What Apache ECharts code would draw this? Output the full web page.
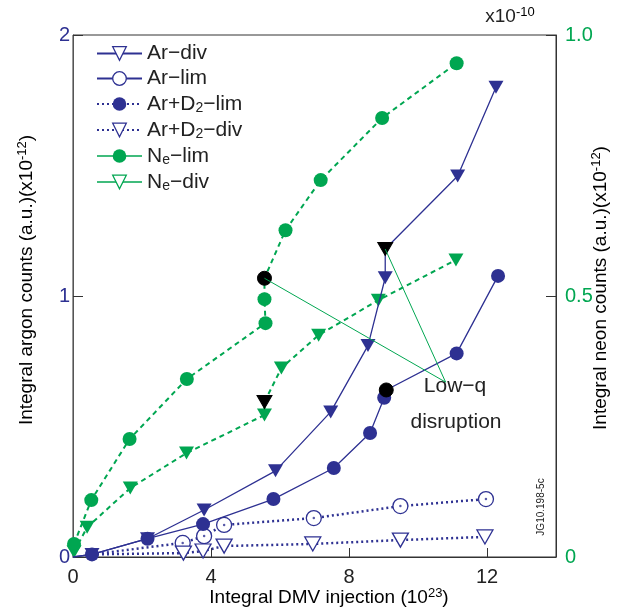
<!DOCTYPE html>
<html><head><meta charset="utf-8">
<script src="https://cdn.jsdelivr.net/npm/echarts@6/dist/echarts.min.js"></script>
<style>html,body{margin:0;padding:0;background:#fff}#c{width:621px;height:611px}</style>
</head><body><div id="c"></div>
<script>
// ---- data ----
const xTicks = [0, 4, 8, 12];
const leftTicks = ['0', '1', '2'];
const rightTicks = ['0', '0.5', '1.0'];

const arDivX = [0, 0.55, 2.16, 3.80, 5.87, 7.47, 8.55, 9.05, 9.05, 11.15, 12.26];
const arDivY = [0, 0.01, 0.07, 0.18, 0.33, 0.556, 0.81, 1.07, 1.18, 1.46, 1.80];
const arDivLowQ = 8;

const arLimX = [0, 0.55, 2.16, 3.77, 5.81, 7.56, 8.61, 9.02, 9.08, 11.12, 12.32];
const arLimY = [0, 0.01, 0.07, 0.126, 0.222, 0.341, 0.475, 0.61, 0.64, 0.78, 1.077];
const arLimLowQ = 8;

const arD2LimX = [0.55, 3.18, 3.80, 4.38, 6.98, 9.49, 11.97];
const arD2LimY = [0.01, 0.054, 0.08, 0.123, 0.149, 0.195, 0.222];

const arD2DivX = [0.55, 3.20, 3.77, 4.38, 6.95, 9.49, 11.94];
const arD2DivY = [0.01, 0.015, 0.023, 0.042, 0.05, 0.065, 0.077];

const neLimX = [0.03, 0.53, 1.64, 3.30, 5.58, 5.55, 5.55, 6.16, 7.18, 8.96, 11.12];
const neLimY = [0.025, 0.109, 0.226, 0.341, 0.448, 0.494, 0.534, 0.626, 0.722, 0.841, 0.946];
const neLimLowQ = 6;

const neDivX = [0.03, 0.41, 1.66, 3.29, 5.55, 5.55, 6.04, 7.12, 8.85, 11.10];
const neDivY = [0.01, 0.057, 0.132, 0.199, 0.272, 0.297, 0.362, 0.425, 0.492, 0.569];
const neDivLowQ = 5;

// callout apex (x, left-axis y) for the "Low-q disruption" note
const calloutApex = [10.8, 0.67];

// ---- styling ----
const BLUE = '#2e3192';
const GREEN = '#00a651';
const FONT = 'Liberation Sans, Arial, sans-serif';
const downTri = 'path://M0,0 L20,0 L10,17 Z';

function pts(xs, ys, lowIdx, opts) {
  return xs.map((x, i) => {
    const d = { value: [x, ys[i]] };
    if (i === lowIdx) d.itemStyle = { color: '#000', borderColor: '#000' };
    if (opts && opts.hideFirst && i === 0) d.symbol = 'none';
    return d;
  });
}

const rightScale = 2; // left max / right max
const annoData = [
  [neLimX[neLimLowQ], neLimY[neLimLowQ] * rightScale],
  calloutApex,
  [arDivX[arDivLowQ], arDivY[arDivLowQ]]
];

const legendNames = {
  'Ar-div': '{n|Ar−div}',
  'Ar-lim': '{n|Ar−lim}',
  'Ar+D2-lim': '{n|Ar+D}{s|2}{n|−lim}',
  'Ar+D2-div': '{n|Ar+D}{s|2}{n|−div}',
  'Ne-lim': '{n|N}{s|e}{n|−lim}',
  'Ne-div': '{n|N}{s|e}{n|−div}'
};

const chart = echarts.init(document.getElementById('c'), null, { renderer: 'canvas' });
chart.setOption({
  animation: false,
  textStyle: { fontFamily: FONT },
  grid: { left: 73, right: 65, top: 35, bottom: 54, show: true, borderColor: '#333', borderWidth: 1, backgroundColor: 'transparent' },
  legend: {
    orient: 'vertical', left: 96, top: 43, itemWidth: 45, itemHeight: 17, itemGap: 4, padding: 0,
    textStyle: { fontFamily: FONT, fontSize: 21, color: '#222', rich: {
      n: { fontSize: 21, fontFamily: FONT, color: '#222', lineHeight: 22 },
      s: { fontSize: 14, fontFamily: FONT, color: '#222', lineHeight: 11, padding: [8, 0, 0, 0] }
    } },
    formatter: name => legendNames[name] || name,
    data: [
      { name: 'Ar-div', itemStyle: { color: '#fff', borderColor: BLUE, borderWidth: 1.3 } },
      { name: 'Ar-lim', itemStyle: { color: '#fff', borderColor: BLUE, borderWidth: 1.3 } },
      { name: 'Ar+D2-lim', itemStyle: { color: BLUE, borderColor: BLUE, borderWidth: 0 } },
      { name: 'Ar+D2-div', itemStyle: { color: '#fff', borderColor: BLUE, borderWidth: 1.3 } },
      { name: 'Ne-lim', itemStyle: { color: GREEN }, lineStyle: { type: 'solid', width: 1.5 } },
      { name: 'Ne-div', itemStyle: { color: '#fff', borderColor: GREEN, borderWidth: 1.3 }, lineStyle: { type: 'solid', width: 1.5 } }
    ]
  },
  xAxis: {
    type: 'value', min: 0, max: 14, interval: 4,
    axisLine: { show: true, lineStyle: { color: '#333' } },
    axisTick: { show: true, inside: true, length: 9, lineStyle: { color: '#333' } },
    axisLabel: { fontSize: 20, color: '#222', margin: 10, formatter: v => xTicks.indexOf(v) >= 0 ? String(v) : '' },
    splitLine: { show: false }
  },
  yAxis: [
    {
      type: 'value', min: 0, max: 2, interval: 1, position: 'left',
      axisLine: { show: true, lineStyle: { color: '#555' } },
      axisTick: { show: true, inside: true, length: 10, lineStyle: { color: '#333' } },
      axisLabel: { fontSize: 20, color: BLUE, margin: 3, formatter: v => leftTicks[Math.round(v)] },
      splitLine: { show: false }
    },
    {
      type: 'value', min: 0, max: 1, interval: 0.5, position: 'right',
      axisLine: { show: true, lineStyle: { color: '#333' } },
      axisTick: { show: true, inside: true, length: 10, lineStyle: { color: '#333' } },
      axisLabel: { fontSize: 20, color: GREEN, margin: 9, formatter: v => rightTicks[Math.round(v * 2)] },
      splitLine: { show: false }
    }
  ],
  series: [
    {
      name: 'Ar-div', type: 'line', yAxisIndex: 0, z: 3,
      data: pts(arDivX, arDivY, arDivLowQ, { hideFirst: true }),
      symbol: downTri, symbolSize: [15, 13], color: BLUE,
      lineStyle: { color: BLUE, width: 1.3 }, itemStyle: { color: BLUE }
    },
    {
      name: 'Ar-lim', type: 'line', yAxisIndex: 0, z: 3,
      data: pts(arLimX, arLimY, arLimLowQ, { hideFirst: true }),
      symbol: 'circle', symbolSize: 14, color: BLUE,
      lineStyle: { color: BLUE, width: 1.3 }, itemStyle: { color: BLUE }
    },
    {
      name: 'Ar+D2-lim', type: 'line', yAxisIndex: 0, z: 2,
      data: pts(arD2LimX, arD2LimY, -1, { hideFirst: true }),
      symbol: 'circle', symbolSize: 15, color: BLUE,
      lineStyle: { color: BLUE, width: 2.5, type: [2, 3] }, itemStyle: { color: '#fff', borderColor: BLUE, borderWidth: 1.3 }
    },
    {
      name: 'dots', type: 'scatter', yAxisIndex: 0, z: 4, silent: true,
      data: arD2LimX.slice(1).map((x, i) => [x, arD2LimY[i + 1]]),
      symbol: 'circle', symbolSize: 2.5, itemStyle: { color: BLUE }
    },
    {
      name: 'Ar+D2-div', type: 'line', yAxisIndex: 0, z: 2,
      data: pts(arD2DivX, arD2DivY, -1, { hideFirst: true }),
      symbol: downTri, symbolSize: [16, 14], color: BLUE,
      lineStyle: { color: BLUE, width: 2.5, type: [2, 3] }, itemStyle: { color: '#fff', borderColor: BLUE, borderWidth: 1.3 }
    },
    {
      name: 'Ne-lim', type: 'line', yAxisIndex: 1, z: 2,
      data: pts(neLimX, neLimY, neLimLowQ),
      symbol: 'circle', symbolSize: 14, color: GREEN,
      lineStyle: { color: GREEN, width: 2, type: [5, 4] }, itemStyle: { color: GREEN }
    },
    {
      name: 'Ne-div', type: 'line', yAxisIndex: 1, z: 2,
      data: pts(neDivX, neDivY, neDivLowQ),
      symbol: downTri, symbolSize: [15, 13], color: GREEN,
      lineStyle: { color: GREEN, width: 2, type: [5, 4] }, itemStyle: { color: GREEN }
    },
    {
      name: 'callout', type: 'line', yAxisIndex: 0, z: 5, silent: true,
      data: annoData, symbol: 'none',
      lineStyle: { color: GREEN, width: 1 }
    }
  ],
  graphic: [
    { type: 'text', x: 455, y: 386, style: { text: 'Low−q', font: '21px ' + FONT, fill: '#222', align: 'center', verticalAlign: 'middle' } },
    { type: 'text', x: 456, y: 422, style: { text: 'disruption', font: '21px ' + FONT, fill: '#222', align: 'center', verticalAlign: 'middle' } },
    { type: 'text', x: 510, y: 17, style: { text: '{n|x10}{p|-10}', align: 'center', verticalAlign: 'middle',
        rich: { n: { fontSize: 19, fontFamily: FONT, fill: '#222', color: '#222' }, p: { fontSize: 13, fontFamily: FONT, color: '#222', padding: [0, 0, 10, 0] } } } },
    { type: 'text', x: 27, y: 280, rotation: Math.PI / 2, style: { text: '{n|Integral argon counts (a.u.)(x10}{p|-12}{n|)}', align: 'center', verticalAlign: 'middle',
        rich: { n: { fontSize: 19, fontFamily: FONT, color: BLUE }, p: { fontSize: 13, fontFamily: FONT, color: BLUE, padding: [0, 0, 10, 0] } } } },
    { type: 'text', x: 601, y: 288, rotation: Math.PI / 2, style: { text: '{n|Integral neon counts (a.u.)(x10}{p|-12}{n|)}', align: 'center', verticalAlign: 'middle',
        rich: { n: { fontSize: 19, fontFamily: FONT, color: GREEN }, p: { fontSize: 13, fontFamily: FONT, color: GREEN, padding: [0, 0, 10, 0] } } } },
    { type: 'text', x: 329, y: 598, style: { text: '{n|Integral DMV injection (10}{p|23}{n|)}', align: 'center', verticalAlign: 'middle',
        rich: { n: { fontSize: 19, fontFamily: FONT, color: '#222' }, p: { fontSize: 13, fontFamily: FONT, color: '#222', padding: [0, 0, 10, 0] } } } },
    { type: 'text', x: 541, y: 507, rotation: Math.PI / 2, style: { text: 'JG10.198-5c', font: '10px ' + FONT, fill: '#222', align: 'center', verticalAlign: 'middle' } }
  ]
});
</script></body></html>
